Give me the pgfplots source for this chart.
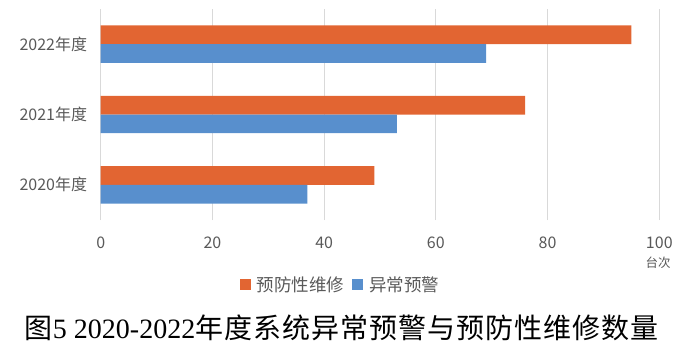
\documentclass[border=0pt]{standalone}
\usepackage{fontspec}
\usepackage{pgfplots}
\pgfplotsset{compat=1.18}
\setmainfont{Liberation Sans}
\newfontfamily\cjk{Noto Sans CJK SC}
\newfontfamily\cjkcap{Noto Sans CJK SC}[LetterSpace=3.5]
\newfontfamily\tnr{Liberation Serif}
\definecolor{myorange}{RGB}{226,101,50}
\definecolor{myblue}{RGB}{88,143,205}
\definecolor{txtgray}{RGB}{89,89,89}
\definecolor{gridgray}{RGB}{217,217,217}
\begin{document}
\begin{tikzpicture}[x=1bp,y=1bp]
\path[use as bounding box] (0,0) rectangle (686,353);
\begin{axis}[
  at={(100.7bp,133bp)}, anchor=south west,
  scale only axis, width=558.6bp, height=211bp,
  xmin=0, xmax=100, ymin=-0.5, ymax=2.5,
  xtick={0,20,40,60,80,100}, ytick={0,1,2},
  yticklabels={2020年度,2021年度,2022年度},
  axis line style={draw=none},
  major tick length=0pt,
  xmajorgrids, grid style={gridgray, line width=0.9bp},
  xbar, bar width=18.7bp,
  /pgf/number format/assume math mode=true,
  ticklabel style={font=\cjk\fontsize{16bp}{18bp}\selectfont, text=txtgray},
  xticklabel style={anchor=base, yshift=-28bp},
  yticklabel style={anchor=east, inner sep=0pt, xshift=-13.4bp},
  legend style={at={(0.429,-0.306)}, anchor=center, draw=none, fill=none,
    legend columns=2, font=\cjk\fontsize{17.5bp}{19bp}\selectfont, text=txtgray,
    /tikz/every odd column/.append style={column sep=4bp},
    /tikz/every even column/.append style={column sep=6bp},
    legend cell align=left, inner sep=0pt},
  legend image code/.code={\fill[#1] (0bp,-5.5bp) rectangle (11bp,5.5bp);},
]
\addplot[fill=myorange, draw=none, bar shift=9.35bp] coordinates {(49,0) (76,1) (95,2)};
\addplot[fill=myblue, draw=none, bar shift=-9.35bp] coordinates {(37,0) (53,1) (69,2)};
\legend{预防性维修,异常预警}
\end{axis}
\node[font=\cjk\fontsize{12.5bp}{14bp}\selectfont, text=txtgray] at (658,90) {台次};
\node at (341.5,25) {\fontsize{28bp}{30bp}\selectfont{\cjkcap 图}{\tnr 5 2020-2022}{\cjkcap 年度系统异常预警与预防性维修数量}};
\end{tikzpicture}
\end{document}
